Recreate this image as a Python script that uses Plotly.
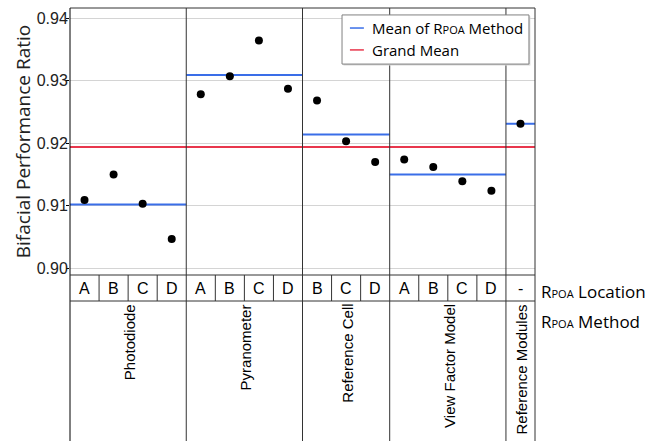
import plotly.graph_objects as go

# ---- data ----
methods = ["Photodiode", "Pyranometer", "Reference Cell", "View Factor Model", "Reference Modules"]
locations = [["A", "B", "C", "D"], ["A", "B", "C", "D"], ["B", "C", "D"], ["A", "B", "C", "D"], ["-"]]
ratios = [
    [0.9109, 0.9150, 0.9103, 0.9047],
    [0.9278, 0.9307, 0.9364, 0.9287],
    [0.9268, 0.9203, 0.9170],
    [0.9174, 0.9162, 0.9139, 0.9124],
    [0.9231],
]
method_means = [0.9102, 0.9309, 0.9214, 0.9150, 0.9231]
grand_mean = 0.9194
y_ticks = [0.90, 0.91, 0.92, 0.93, 0.94]
y_ticktext = ["0.90", "0.91", "0.92", "0.93", "0.94"]

BLUE = "#3a6ee8"
RED = "#e8364c"
ARIAL = "Liberation Sans"
SEGOE = "Open Sans"
RPOA = "R<span style='font-size:11px'>POA</span>"

# column layout
starts = []
s = 0
for locs in locations:
    starts.append(s)
    s += len(locs)
ncols = s

fig = go.Figure()

# method means
for i, m in enumerate(method_means):
    fig.add_trace(go.Scatter(
        x=[starts[i], starts[i] + len(locations[i])], y=[m, m], mode="lines",
        line=dict(color=BLUE, width=2), showlegend=False, hoverinfo="skip"))

# grand mean
fig.add_trace(go.Scatter(x=[0, ncols], y=[grand_mean, grand_mean], mode="lines",
                         line=dict(color=RED, width=2), showlegend=False, hoverinfo="skip"))

# points
px, py = [], []
for i, vals in enumerate(ratios):
    for j, v in enumerate(vals):
        px.append(starts[i] + j + 0.5)
        py.append(v)
fig.add_trace(go.Scatter(x=px, y=py, mode="markers",
                         marker=dict(color="black", size=8), showlegend=False))

# ---- table / frame shapes ----
LOC_BOT = -0.0974
FIG_BOT = -0.64
shapes = []
line_dark = dict(color="#333333", width=1)
shapes.append(dict(type="line", xref="paper", yref="paper", x0=0, x1=1, y0=1, y1=1, line=line_dark))
shapes.append(dict(type="line", xref="paper", yref="paper", x0=0, x1=0, y0=1, y1=FIG_BOT, line=dict(color="black", width=1)))
shapes.append(dict(type="line", xref="paper", yref="paper", x0=1, x1=1, y0=1, y1=FIG_BOT, line=line_dark))
for yy in (0, LOC_BOT):
    shapes.append(dict(type="line", xref="paper", yref="paper", x0=0, x1=1, y0=yy, y1=yy, line=line_dark))
for i in range(1, len(methods)):
    xx = starts[i] / ncols
    shapes.append(dict(type="line", xref="paper", yref="paper", x0=xx, x1=xx, y0=1, y1=FIG_BOT, line=line_dark))
for c in range(1, ncols):
    if c in starts:
        continue
    xx = c / ncols
    shapes.append(dict(type="line", xref="paper", yref="paper", x0=xx, x1=xx, y0=0, y1=LOC_BOT, line=line_dark))

# legend box (manual)
LX0, LX1, LY0, LY1 = 0.585, 0.987, 0.790, 0.974
shapes.append(dict(type="rect", xref="paper", yref="paper", x0=LX0 + 0.003, x1=LX1 + 0.003, y0=LY0 - 0.005, y1=LY1 - 0.005,
                   fillcolor="#d8d8d8", line=dict(width=0), layer="above"))
shapes.append(dict(type="rect", xref="paper", yref="paper", x0=LX0, x1=LX1, y0=LY0, y1=LY1,
                   fillcolor="white", line=dict(color="#808080", width=1), layer="above"))
shapes.append(dict(type="line", xref="paper", yref="paper", x0=0.602, x1=0.632, y0=0.925, y1=0.925,
                   line=dict(color=BLUE, width=1.5), layer="above"))
shapes.append(dict(type="line", xref="paper", yref="paper", x0=0.602, x1=0.632, y0=0.843, y1=0.843,
                   line=dict(color=RED, width=1.5), layer="above"))

annotations = []
annotations.append(dict(xref="paper", yref="paper", x=0.645, y=0.925, xanchor="left", yanchor="middle",
                        text="Mean of " + RPOA + " Method", showarrow=False,
                        font=dict(family=SEGOE, size=15, color="black")))
annotations.append(dict(xref="paper", yref="paper", x=0.645, y=0.843, xanchor="left", yanchor="middle",
                        text="Grand Mean", showarrow=False,
                        font=dict(family=SEGOE, size=15, color="black")))

# location labels
for i, locs in enumerate(locations):
    for j, loc in enumerate(locs):
        annotations.append(dict(x=starts[i] + j + 0.5, xref="x", yref="paper", y=LOC_BOT / 2,
                                xanchor="center", yanchor="middle", text=loc, showarrow=False,
                                font=dict(family=ARIAL, size=16, color="black")))
# method labels
for i, m in enumerate(methods):
    annotations.append(dict(x=starts[i] + len(locations[i]) / 2, xref="x", yref="paper", y=LOC_BOT - 0.004,
                            xanchor="center", yanchor="top", text=m, textangle=-90, showarrow=False,
                            xshift=1, font=dict(family=ARIAL, size=15, color="black")))
# row titles
annotations.append(dict(xref="paper", yref="paper", x=1.008, y=-0.06, xanchor="left", yanchor="middle",
                        text=RPOA + " Location", showarrow=False, font=dict(family=SEGOE, size=17, color="black")))
annotations.append(dict(xref="paper", yref="paper", x=1.008, y=-0.176, xanchor="left", yanchor="middle",
                        text=RPOA + " Method", showarrow=False, font=dict(family=SEGOE, size=17, color="black")))

fig.update_layout(
    width=652, height=441,
    margin=dict(l=70, r=117, t=8, b=166),
    paper_bgcolor="white", plot_bgcolor="white",
    shapes=shapes, annotations=annotations,
    showlegend=False,
    xaxis=dict(range=[0, ncols], showgrid=False, zeroline=False, showticklabels=False, ticks="", showline=False, fixedrange=True),
    yaxis=dict(range=[0.89893, 0.94160], tickvals=y_ticks, ticktext=y_ticktext,
               showgrid=True, gridcolor="#d4d4d4", gridwidth=1, zeroline=False,
               ticks="outside", ticklen=3, tickcolor="black", showline=False,
               ticklabelstandoff=-5,
               tickfont=dict(family=ARIAL, size=16, color="#222"),
               title=dict(text="Bifacial Performance Ratio", font=dict(family=SEGOE, size=19, color="#222"), standoff=1)),
)

fig.write_html("out.html")
